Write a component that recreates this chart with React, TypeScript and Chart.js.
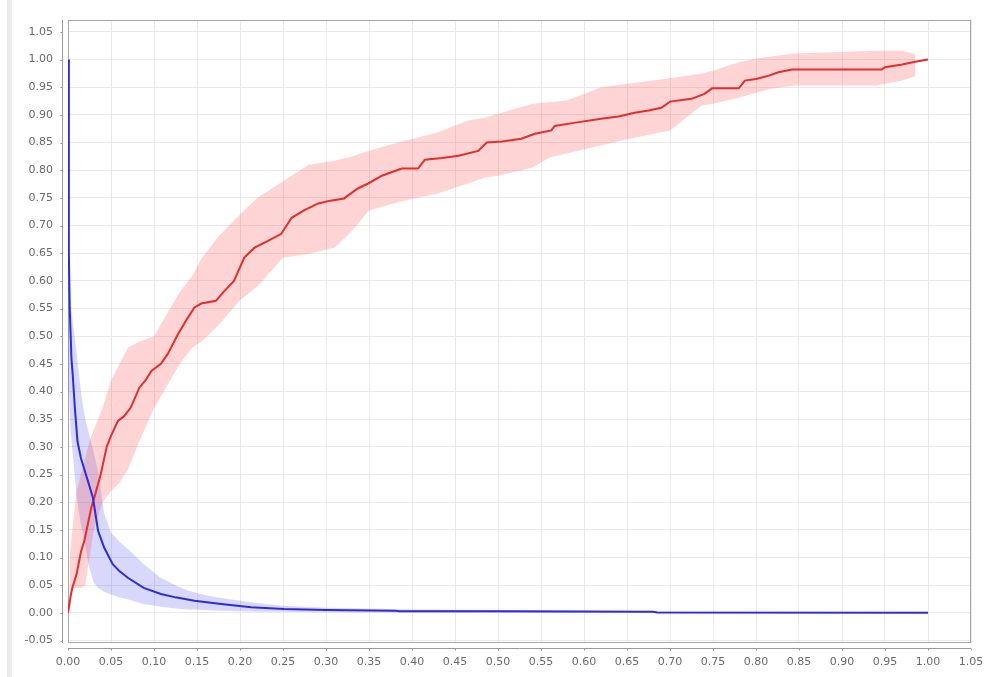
import { useEffect, useRef } from 'react';
import { Chart, registerables } from 'chart.js';

Chart.register(...registerables);

// ---- Data ----
const xTicks = [0, 0.05, 0.1, 0.15, 0.2, 0.25, 0.3, 0.35, 0.4, 0.45, 0.5, 0.55, 0.6, 0.65, 0.7, 0.75, 0.8, 0.85, 0.9, 0.95, 1.0, 1.05];
const yTicks = [-0.05, 0, 0.05, 0.1, 0.15, 0.2, 0.25, 0.3, 0.35, 0.4, 0.45, 0.5, 0.55, 0.6, 0.65, 0.7, 0.75, 0.8, 0.85, 0.9, 0.95, 1.0, 1.05];

const redX = [0, 0.003, 0.005, 0.01, 0.015, 0.019, 0.027, 0.03, 0.038, 0.045, 0.05, 0.058, 0.065, 0.073, 0.083, 0.09, 0.097, 0.108, 0.116, 0.128, 0.138, 0.147, 0.155, 0.172, 0.182, 0.193, 0.205, 0.217, 0.232, 0.248, 0.26, 0.275, 0.291, 0.305, 0.321, 0.337, 0.349, 0.365, 0.388, 0.407, 0.415, 0.435, 0.454, 0.477, 0.487, 0.505, 0.527, 0.543, 0.562, 0.566, 0.59, 0.62, 0.64, 0.659, 0.675, 0.69, 0.70, 0.725, 0.74, 0.749, 0.78, 0.787, 0.8, 0.815, 0.826, 0.842, 0.946, 0.95, 0.97, 0.985, 1.0];
const redY = [0, 0.03, 0.045, 0.07, 0.11, 0.13, 0.19, 0.205, 0.25, 0.30, 0.32, 0.347, 0.355, 0.371, 0.407, 0.42, 0.437, 0.45, 0.468, 0.504, 0.53, 0.552, 0.559, 0.564, 0.582, 0.60, 0.642, 0.66, 0.672, 0.685, 0.714, 0.728, 0.74, 0.745, 0.749, 0.767, 0.776, 0.79, 0.803, 0.803, 0.819, 0.822, 0.826, 0.835, 0.85, 0.852, 0.857, 0.866, 0.872, 0.88, 0.886, 0.893, 0.897, 0.904, 0.908, 0.913, 0.924, 0.929, 0.938, 0.948, 0.948, 0.962, 0.965, 0.971, 0.977, 0.982, 0.982, 0.986, 0.991, 0.996, 1.0];

const redBandX = [0.002, 0.005, 0.01, 0.015, 0.02, 0.025, 0.03, 0.04, 0.05, 0.06, 0.07, 0.083, 0.1, 0.115, 0.13, 0.145, 0.155, 0.175, 0.2, 0.22, 0.25, 0.28, 0.31, 0.33, 0.35, 0.39, 0.43, 0.465, 0.485, 0.5, 0.54, 0.56, 0.58, 0.62, 0.66, 0.7, 0.737, 0.75, 0.78, 0.8, 0.82, 0.845, 0.94, 0.97, 0.985];
const redUpper = [0.1, 0.15, 0.22, 0.25, 0.28, 0.31, 0.33, 0.37, 0.42, 0.45, 0.48, 0.49, 0.50, 0.54, 0.58, 0.61, 0.64, 0.68, 0.72, 0.75, 0.78, 0.81, 0.817, 0.825, 0.835, 0.853, 0.868, 0.89, 0.895, 0.902, 0.92, 0.923, 0.926, 0.95, 0.958, 0.966, 0.975, 0.98, 0.995, 1.002, 1.006, 1.011, 1.016, 1.016, 1.01];
const redLower = [0.0, 0.045, 0.045, 0.045, 0.05, 0.1, 0.15, 0.2, 0.22, 0.235, 0.26, 0.31, 0.37, 0.41, 0.45, 0.48, 0.49, 0.52, 0.565, 0.59, 0.642, 0.649, 0.66, 0.69, 0.727, 0.745, 0.758, 0.776, 0.787, 0.79, 0.805, 0.823, 0.83, 0.845, 0.859, 0.872, 0.917, 0.92, 0.931, 0.94, 0.948, 0.953, 0.953, 0.962, 0.97];

const blueX = [0, 0.001, 0.002, 0.004, 0.0055, 0.008, 0.011, 0.015, 0.023, 0.029, 0.035, 0.042, 0.052, 0.06, 0.07, 0.088, 0.108, 0.125, 0.147, 0.178, 0.213, 0.251, 0.3, 0.38, 0.385, 0.5, 0.68, 0.685, 1.0];
const blueY = [1.0, 0.65, 0.55, 0.46, 0.43, 0.37, 0.31, 0.28, 0.239, 0.208, 0.148, 0.118, 0.088, 0.075, 0.063, 0.045, 0.034, 0.028, 0.022, 0.016, 0.01, 0.007, 0.005, 0.004, 0.003, 0.003, 0.002, 0.0005, 0.0];

const blueBandX = [0, 0.001, 0.003, 0.006, 0.01, 0.015, 0.02, 0.025, 0.03, 0.035, 0.042, 0.05, 0.06, 0.07, 0.088, 0.108, 0.125, 0.14, 0.16, 0.178, 0.2, 0.22, 0.25, 0.3, 0.4, 0.5, 0.7, 1.0];
const blueUpper = [1.0, 0.62, 0.56, 0.52, 0.47, 0.40, 0.35, 0.32, 0.29, 0.257, 0.18, 0.145, 0.128, 0.115, 0.088, 0.063, 0.05, 0.04, 0.032, 0.027, 0.022, 0.018, 0.013, 0.009, 0.006, 0.005, 0.003, 0.002];
const blueLower = [1.0, 0.4, 0.33, 0.28, 0.21, 0.16, 0.12, 0.08, 0.055, 0.045, 0.038, 0.033, 0.028, 0.024, 0.016, 0.011, 0.008, 0.006, 0.005, 0.004, 0.003, 0.002, 0.002, 0.001, 0.0005, 0, 0, 0];

const pts = (xs: number[], ys: number[]) => xs.map((x, i) => ({ x, y: ys[i] }));

const framePlugin = {
  id: 'frame',
  beforeDraw(chart: any) {
    const ctx = chart.ctx;
    ctx.save();
    ctx.fillStyle = '#ffffff';
    ctx.fillRect(0, 0, chart.width, chart.height);
    ctx.fillStyle = '#ececec';
    ctx.fillRect(7, 0, 5, chart.height);
    ctx.restore();
  },
  beforeDatasetsDraw(chart: any) {
    const { ctx, chartArea: a } = chart;
    ctx.save();
    ctx.strokeStyle = '#a8a8a8';
    ctx.lineWidth = 1;
    ctx.strokeRect(a.left + 0.5, a.top + 0.5, a.right - a.left - 1, a.bottom - a.top - 1);
    ctx.restore();
  },
  afterDraw(chart: any) {
    const { ctx, chartArea: a, scales } = chart;
    ctx.save();
    ctx.strokeStyle = '#9a9a9a';
    ctx.lineWidth = 1;
    const ax = a.left - 5.5;
    const ay = a.bottom + 5.5;
    ctx.beginPath();
    ctx.moveTo(ax, a.top);
    ctx.lineTo(ax, a.bottom);
    yTicks.forEach((v) => {
      const py = Math.round(scales.y.getPixelForValue(v)) + 0.5;
      ctx.moveTo(ax - 2, py);
      ctx.lineTo(ax, py);
    });
    ctx.moveTo(a.left, ay);
    ctx.lineTo(a.right, ay);
    xTicks.forEach((v) => {
      const px = Math.round(scales.x.getPixelForValue(v)) + 0.5;
      ctx.moveTo(px, ay);
      ctx.lineTo(px, ay + 2);
    });
    ctx.stroke();
    ctx.restore();
  },
};

export default function App() {
  const ref = useRef<HTMLCanvasElement | null>(null);

  useEffect(() => {
    if (!ref.current) return;
    const bandBase = { pointRadius: 0, borderWidth: 0, borderColor: 'rgba(0,0,0,0)', tension: 0, order: 2 };
    const chart = new Chart(ref.current, {
      type: 'line',
      data: {
        datasets: [
          { ...bandBase, data: pts(redBandX, redUpper), fill: '+1', backgroundColor: 'rgba(255,60,60,0.22)' },
          { ...bandBase, data: pts(redBandX, redLower), fill: false, backgroundColor: 'rgba(0,0,0,0)' },
          { ...bandBase, data: pts(blueBandX, blueUpper), fill: '+1', backgroundColor: 'rgba(60,60,240,0.2)' },
          { ...bandBase, data: pts(blueBandX, blueLower), fill: false, backgroundColor: 'rgba(0,0,0,0)' },
          { data: pts(redX, redY), borderColor: 'rgb(228,45,45)', borderWidth: 2, pointRadius: 0, fill: false, tension: 0, order: 1 },
          { data: pts(blueX, blueY), borderColor: 'rgb(45,45,215)', borderWidth: 2, pointRadius: 0, fill: false, tension: 0, order: 0 },
        ],
      } as any,
      options: {
        responsive: false,
        animation: false,
        layout: { padding: { left: 0, top: 20, right: 14, bottom: 0 } },
        plugins: { legend: { display: false }, tooltip: { enabled: false } },
        scales: {
          x: {
            type: 'linear',
            min: 0,
            max: 1.05,
            afterBuildTicks: (s: any) => { s.ticks = xTicks.map((v) => ({ value: v })); },
            afterFit: (s: any) => { s.height = 34; s.paddingLeft = 0; s.paddingRight = 0; },
            grid: { color: '#e9e9e9', lineWidth: 1, drawTicks: false },
            border: { display: false },
            ticks: {
              autoSkip: false,
              maxRotation: 0,
              padding: 13,
              color: '#6a6a6a',
              font: { family: 'DejaVu Sans', size: 11 },
              callback: (v: any) => Number(v).toFixed(2),
            },
          },
          y: {
            type: 'linear',
            min: -0.0545,
            max: 1.0715,
            afterBuildTicks: (s: any) => { s.ticks = yTicks.map((v) => ({ value: v })); },
            afterFit: (s: any) => { s.width = 68; s.paddingTop = 0; s.paddingBottom = 0; },
            grid: { color: '#e9e9e9', lineWidth: 1, drawTicks: false },
            border: { display: false },
            ticks: {
              autoSkip: false,
              padding: 15,
              color: '#6a6a6a',
              font: { family: 'DejaVu Sans', size: 11 },
              callback: (v: any) => Number(v).toFixed(2),
            },
          },
        },
      } as any,
      plugins: [framePlugin],
    });
    return () => chart.destroy();
  }, []);

  return (
    <div style={{ position: 'absolute', left: 0, top: 0, width: 985, height: 677 }}>
      <canvas ref={ref} width={985} height={677} style={{ display: 'block', width: 985, height: 677 }} />
    </div>
  );
}
